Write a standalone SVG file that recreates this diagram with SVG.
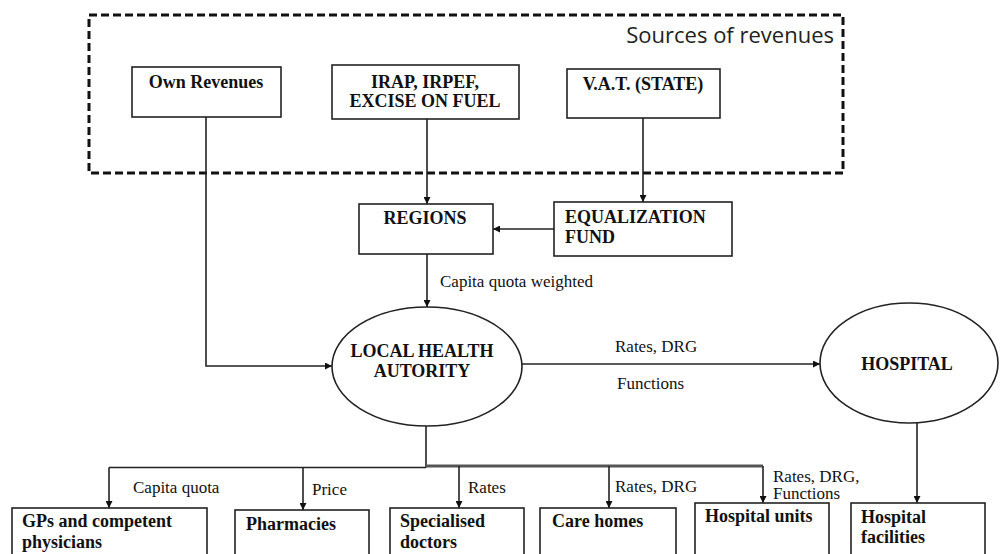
<svg xmlns="http://www.w3.org/2000/svg" width="1000" height="554" viewBox="0 0 1000 554">
<defs>
<style>
.box{fill:#fff;stroke:#222;stroke-width:1.6}
.ell{fill:#fff;stroke:#222;stroke-width:1.6}
.b{font-family:'Liberation Serif','Times New Roman',Tinos,'Noto Serif','DejaVu Serif',FreeSerif,serif;font-weight:bold;font-size:18px;fill:#111}
.r{font-family:'Liberation Serif','Times New Roman',Tinos,'Noto Serif','DejaVu Serif',FreeSerif,serif;font-size:17px;fill:#111}
.ln{fill:none;stroke:#222;stroke-width:1.6}
.arr{fill:none;stroke:#222;stroke-width:1.6;marker-end:url(#ah)}
</style>
<marker id="ah" viewBox="0 0 10 10" refX="10" refY="5" markerWidth="7" markerHeight="7" markerUnits="userSpaceOnUse" orient="auto">
<path d="M0,0 L10,5 L0,10 z" fill="#111"/>
</marker>
</defs>
<rect width="1000" height="554" fill="#fff"/>
<g id="sources">
<rect x="89" y="15" width="754" height="158" fill="none" stroke="#111" stroke-width="3" stroke-dasharray="8 4"/>
<text x="834" y="43" text-anchor="end" font-family="'Open Sans','Noto Sans',sans-serif" font-size="22" fill="#222">Sources of revenues</text>
</g>
<g id="connectors">
<path class="arr" d="M206,117 V366 H332"/>
<path class="arr" d="M427,119 V204"/>
<path class="arr" d="M643,118 V202"/>
<path class="arr" d="M554,229 H493"/>
<path class="arr" d="M427,254 V307"/>
<path class="arr" d="M522,364 H820"/>
<path class="arr" d="M917,423 V503"/>
<path class="ln" d="M426,426 V467.5" stroke-width="2"/>
<path class="ln" d="M426,467.5 H109" stroke-width="2"/>
<path d="M426,466 H763" fill="none" stroke="#555" stroke-width="3.2"/>
<path class="arr" d="M109,467.5 V508"/>
<path class="arr" d="M303,467.5 V510"/>
<path class="arr" d="M459,466 V508"/>
<path class="arr" d="M609,466 V508"/>
<path class="arr" d="M763,466 V503"/>
<text class="r" x="440" y="287">Capita quota weighted</text>
<text class="r" x="615" y="352">Rates, DRG</text>
<text class="r" x="617" y="389">Functions</text>
<text class="r" x="133" y="493">Capita quota</text>
<text class="r" x="312" y="495">Price</text>
<text class="r" x="468" y="493">Rates</text>
<text class="r" x="615" y="492">Rates, DRG</text>
<text class="r" x="773" y="482" font-size="16">Rates, DRG,</text>
<text class="r" x="773" y="499" font-size="16">Functions</text>
</g>
<g id="own-revenues">
<rect class="box" x="132" y="67" width="149" height="50"/>
<text class="b" x="206" y="88" text-anchor="middle">Own Revenues</text>
</g>
<g id="irap">
<rect class="box" x="332" y="65" width="187" height="54"/>
<text class="b" x="425" y="88" text-anchor="middle">IRAP, IRPEF,</text>
<text class="b" x="425" y="107" text-anchor="middle">EXCISE ON FUEL</text>
</g>
<g id="vat">
<rect class="box" x="567" y="69" width="153" height="49"/>
<text class="b" x="643" y="90" text-anchor="middle">V.A.T. (STATE)</text>
</g>
<g id="regions">
<rect class="box" x="359" y="204" width="134" height="50"/>
<text class="b" x="425" y="224" text-anchor="middle">REGIONS</text>
</g>
<g id="equalization">
<rect class="box" x="554" y="202" width="178" height="54"/>
<text class="b" x="565" y="223">EQUALIZATION</text>
<text class="b" x="565" y="243">FUND</text>
</g>
<g id="lha">
<ellipse class="ell" cx="427" cy="366.5" rx="95" ry="59.5"/>
<text class="b" x="422" y="357" text-anchor="middle">LOCAL HEALTH</text>
<text class="b" x="422" y="377" text-anchor="middle">AUTORITY</text>
</g>
<g id="hospital">
<ellipse class="ell" cx="909" cy="363" rx="89" ry="60"/>
<text class="b" x="907" y="370" text-anchor="middle">HOSPITAL</text>
</g>
<g id="gps">
<rect class="box" x="12" y="508" width="195" height="60"/>
<text class="b" x="22" y="527">GPs and competent</text>
<text class="b" x="22" y="548">physicians</text>
</g>
<g id="pharmacies">
<rect class="box" x="235" y="510" width="134" height="60"/>
<text class="b" x="246" y="530">Pharmacies</text>
</g>
<g id="specialised">
<rect class="box" x="390" y="508" width="134" height="60"/>
<text class="b" x="400" y="527">Specialised</text>
<text class="b" x="400" y="548">doctors</text>
</g>
<g id="care-homes">
<rect class="box" x="540" y="508" width="136" height="60"/>
<text class="b" x="552" y="527">Care homes</text>
</g>
<g id="hospital-units">
<rect class="box" x="695" y="503" width="134" height="60"/>
<text class="b" x="705" y="522">Hospital units</text>
</g>
<g id="hospital-facilities">
<rect class="box" x="851" y="503" width="134" height="60"/>
<text class="b" x="861" y="523">Hospital</text>
<text class="b" x="861" y="543">facilities</text>
</g>
</svg>
